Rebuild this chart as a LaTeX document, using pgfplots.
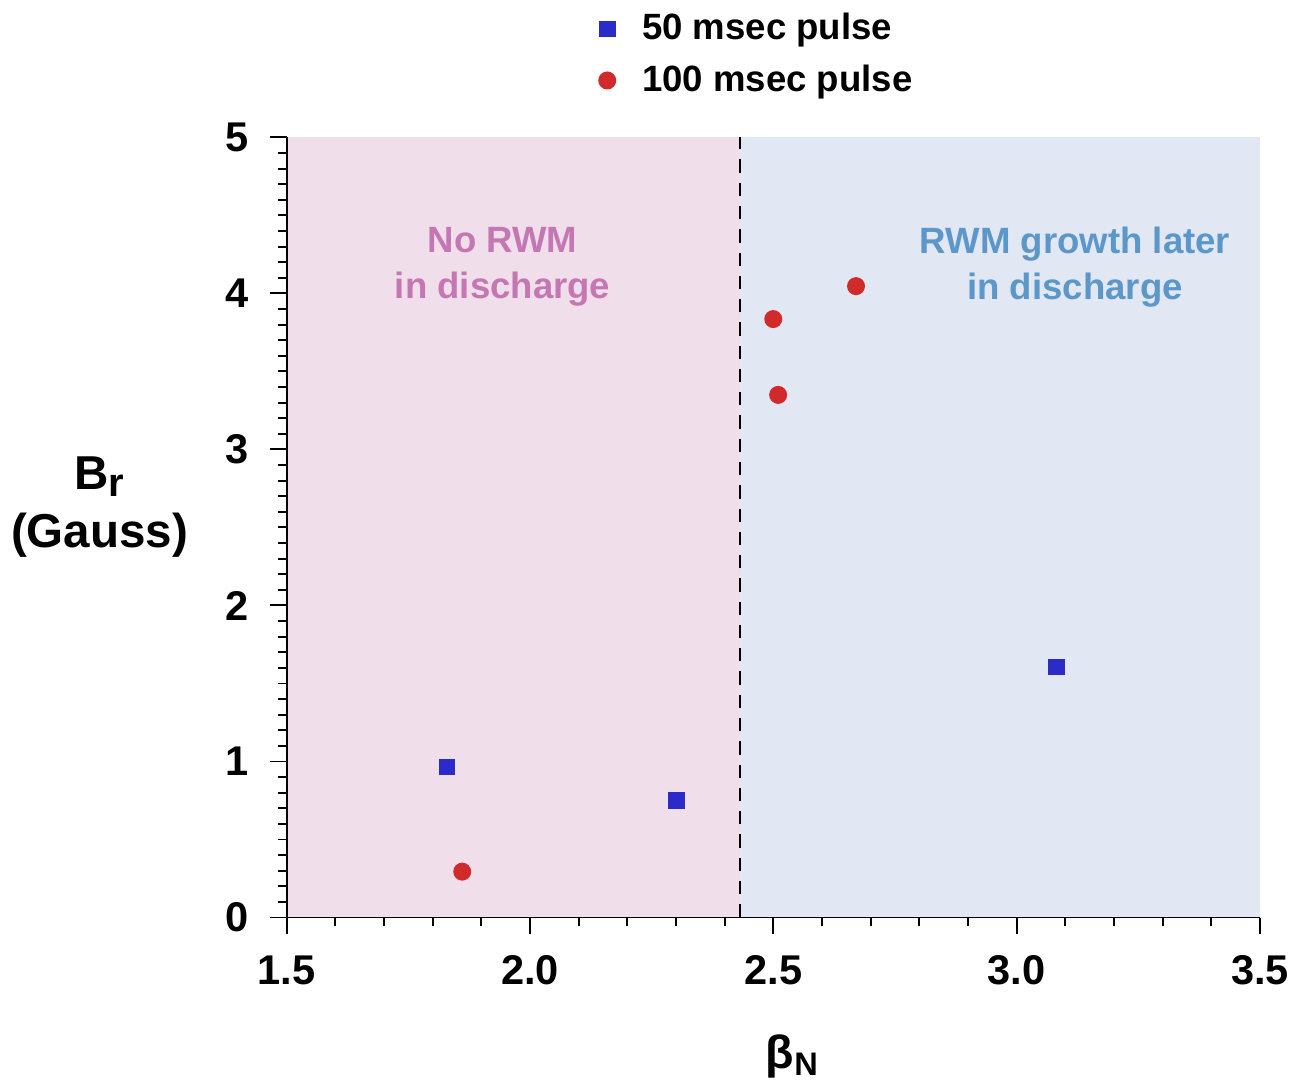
\documentclass[border=0pt]{standalone}
\usepackage{pgfplots}
\pgfplotsset{compat=1.18}
\usepackage{fontspec}
\setmainfont{Liberation Sans}
\definecolor{pinkbg}{HTML}{F0DEEA}
\definecolor{bluebg}{HTML}{E1E7F3}
\definecolor{pinktxt}{HTML}{C577B3}
\definecolor{bluetxt}{HTML}{5B97C9}
\definecolor{sqblue}{HTML}{2B2BC9}
\definecolor{dotred}{HTML}{D02A2A}
\begin{document}
\begin{tikzpicture}
\begin{axis}[
    scale only axis,
    width=292.8pt, height=234.6pt,
    xmin=1.5, xmax=3.5, ymin=0, ymax=5,
    axis x line*=bottom, axis y line*=left,
    axis line style={line width=0.6pt, -},
    xtick={1.5,2.0,2.5,3.0,3.5}, ytick={0,1,2,3,4,5},
    minor x tick num=4, minor y tick num=9,
    tick align=outside,
    major tick length=5pt, minor tick length=2.7pt,
    tick style={black, line width=0.6pt},
    x tick label style={/pgf/number format/fixed, /pgf/number format/fixed zerofill, /pgf/number format/precision=1, yshift=-3pt},
    /pgf/number format/assume math mode=true,
    ticklabel style={font=\bfseries\fontsize{12.5}{14}\selectfont},
    y tick label style={xshift=-3pt},
    xlabel={β\textsubscript{N}},
    xlabel style={at={(axis description cs:0.52,-0.178)}, anchor=center, font=\bfseries\fontsize{14}{16}\selectfont},
    ylabel={B{\fontsize{12}{14}\selectfont\raisebox{-0.35ex}{r}}\\(Gauss)},
    ylabel style={at={(axis description cs:-0.192,0.526)}, anchor=center, rotate=-90, align=center, font=\bfseries\fontsize{14.3}{17.5}\selectfont},
    legend style={at={(axis description cs:0.31,1.035)}, anchor=south west, draw=none, fill=none,
        font=\bfseries\fontsize{11}{13}\selectfont, row sep=2pt},
    legend cell align=left,
    clip=false,
]
\addplot[fill=pinkbg, draw=none, forget plot] coordinates {(1.5,0) (2.432,0) (2.432,5) (1.5,5)} -- cycle;
\addplot[fill=bluebg, draw=none, forget plot] coordinates {(2.432,0) (3.5,0) (3.5,5) (2.432,5)} -- cycle;
\addplot[black, line width=0.7pt, dash pattern=on 4pt off 3pt, forget plot] coordinates {(2.432,0) (2.432,5)};
\addplot[only marks, mark=square*, mark size=2.3pt, color=sqblue] coordinates {
    (1.830,0.965) (2.301,0.748) (3.082,1.605)};
\addlegendentry{\hspace*{6pt}50 msec pulse}
\addplot[only marks, mark=*, mark size=2.5pt, color=dotred] coordinates {
    (1.861,0.294) (2.500,3.836) (2.510,3.350) (2.670,4.047)};
\addlegendentry{\hspace*{6pt}100 msec pulse}
\node[align=center, text=pinktxt, font=\bfseries\fontsize{11}{14}\selectfont] at (axis cs:1.944,4.17) {No RWM\\in discharge};
\node[align=center, text=bluetxt, font=\bfseries\fontsize{11}{14}\selectfont] at (axis cs:3.12,4.17) {RWM growth later\\in discharge};
\draw[black, line width=0.6pt] (axis cs:1.5,0) -- (axis cs:3.5,0);
\draw[black, line width=0.6pt] (axis cs:1.5,0) -- (axis cs:1.5,5);
\end{axis}
\end{tikzpicture}
\end{document}
